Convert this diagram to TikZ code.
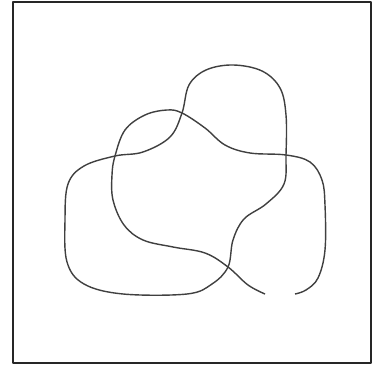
\documentclass[tikz,border=0pt]{standalone}
\usetikzlibrary{positioning}

\begin{document}
\begin{tikzpicture}[x=0.02cm,y=-0.02cm,line join=round]
\useasboundingbox (0,0) rectangle (372,367);
% frame
\draw[line width=1.1pt,black!85] (13,363)--(13,2)--(371,2)--(371,363)--cycle;
% crossings
\coordinate (A) at (182,113);
\coordinate (B) at (115,156);
\coordinate (C) at (286,155);
\coordinate (D) at (228,267);
% closed strand
\draw[line width=.8pt,black!75] plot[smooth cycle,tension=.6] coordinates {
 (A) (189,85) (206,70) (233,65) (262,71) (280,88) (286,115) (C) (284,184)
 (266,204) (244,219) (233,240) (D) (212,284) (187,294) (123,294) (84,284)
 (67,262) (65,220) (68,184) (84,166) (B) (143,152) (170,137)};
% open strand
\draw[line width=.8pt,black!75] plot[smooth,tension=.6] coordinates {
 (265,294) (248,285) (D) (205,253) (173,247) (143,240) (124,225) (113,200)
 (112,175) (B) (125,130) (145,115) (167,110) (A) (205,128) (225,145)
 (250,153) (C) (310,162) (322,180) (325,205) (325,250) (318,278) (306,290)
 (295,294)};
\end{tikzpicture}
\end{document}
